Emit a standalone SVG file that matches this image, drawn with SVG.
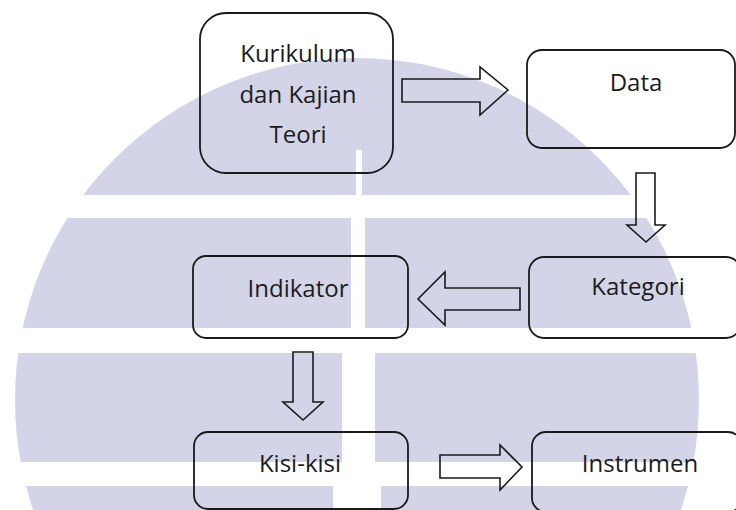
<svg xmlns="http://www.w3.org/2000/svg" width="736" height="510" viewBox="0 0 736 510">
  <style>
    .box { fill: none; stroke: #1a1a1a; stroke-width: 1.8; }
    .arrow { fill: none; stroke: #1a1a1a; stroke-width: 1.6; stroke-linejoin: miter; }
    .label { font-family: "Open Sans", "Noto Sans", sans-serif; font-size: 24px; fill: #1c1c1c; text-anchor: middle; }
    .mark { fill: #d4d4e9; }
    .gap { fill: #ffffff; }
  </style>

  <rect width="736" height="510" fill="#ffffff"/>

  <!-- background emblem: disc cut by horizontal and vertical gaps -->
  <g id="emblem">
    <circle class="mark" cx="357" cy="400" r="342"/>
    <rect class="gap" x="0" y="195" width="736" height="23"/>
    <rect class="gap" x="0" y="328" width="736" height="25"/>
    <rect class="gap" x="0" y="462" width="736" height="24"/>
    <rect class="gap" x="356" y="150" width="6" height="45"/>
    <rect class="gap" x="351" y="218" width="14" height="110"/>
    <rect class="gap" x="342" y="353" width="33" height="109"/>
    <rect class="gap" x="333" y="486" width="48" height="24"/>
  </g>

  <g id="kurikulum">
    <rect class="box" x="200" y="13" width="193" height="160" rx="26"/>
    <text class="label" x="298" y="62">Kurikulum</text>
    <text class="label" x="298" y="103">dan Kajian</text>
    <text class="label" x="298" y="143">Teori</text>
  </g>

  <g id="data">
    <rect class="box" x="527" y="50" width="208" height="98" rx="15"/>
    <text class="label" x="636" y="91">Data</text>
  </g>

  <g id="kategori">
    <rect class="box" x="529" y="257" width="212" height="81" rx="15"/>
    <text class="label" x="638" y="295">Kategori</text>
  </g>

  <g id="indikator">
    <rect class="box" x="193" y="256" width="215" height="82" rx="13"/>
    <text class="label" x="298" y="297">Indikator</text>
  </g>

  <g id="kisi-kisi">
    <rect class="box" x="194" y="432" width="214" height="77" rx="14"/>
    <text class="label" x="300" y="472">Kisi-kisi</text>
  </g>

  <g id="instrumen">
    <rect class="box" x="532" y="432" width="210" height="80" rx="14"/>
    <text class="label" x="640" y="472">Instrumen</text>
  </g>

  <g id="connectors">
    <polygon class="arrow" points="402,79 480,79 480,67 508,90 480,115 480,102 402,102"/>
    <polygon class="arrow" points="636,173 655,173 655,225 665,225 646,242 627,225 636,225"/>
    <polygon class="arrow" points="520,288 445,288 445,272 418,299 445,325 445,310 520,310"/>
    <polygon class="arrow" points="293,352 313,352 313,402 323,402 303,420 283,402 293,402"/>
    <polygon class="arrow" points="440,455 500,455 500,445 522,467 500,490 500,478 440,478"/>
  </g>
</svg>
